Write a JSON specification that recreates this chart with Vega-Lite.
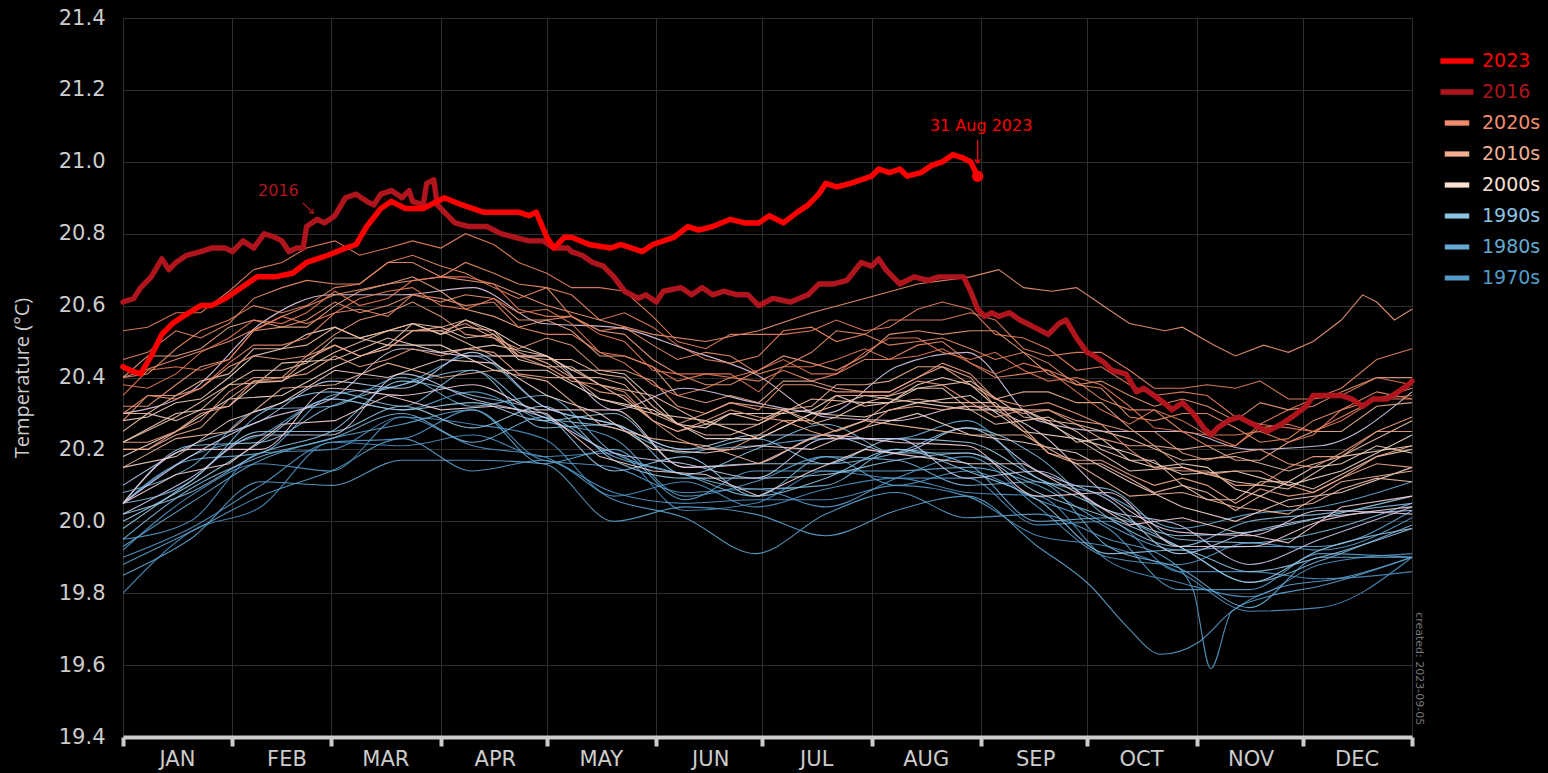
{
"$schema": "https://vega.github.io/schema/vega-lite/v6.json",
"width": 1289, "height": 719,
"autosize": {"type": "none"},
"padding": {"left": 123, "top": 18, "right": 136, "bottom": 36},
"background": "#000000",
"config": {"view": {"stroke": null}, "font": "DejaVu Sans"},
"datasets": {
"old": [
{"yr":1979,"d":1,"t":19.80},{"yr":1979,"d":20,"t":19.97},{"yr":1979,"d":40,"t":20.04},{"yr":1979,"d":60,"t":20.22},{"yr":1979,"d":80,"t":20.21},{"yr":1979,"d":100,"t":20.24},{"yr":1979,"d":120,"t":20.18},{"yr":1979,"d":140,"t":20.19},{"yr":1979,"d":160,"t":20.03},{"yr":1979,"d":180,"t":20.05},{"yr":1979,"d":200,"t":20.14},{"yr":1979,"d":220,"t":20.12},{"yr":1979,"d":240,"t":20.12},{"yr":1979,"d":260,"t":19.99},{"yr":1979,"d":280,"t":20.00},{"yr":1979,"d":300,"t":19.86},{"yr":1979,"d":320,"t":19.86},{"yr":1979,"d":340,"t":19.84},{"yr":1979,"d":366,"t":19.86},
{"yr":1980,"d":1,"t":19.95},{"yr":1980,"d":20,"t":20.00},{"yr":1980,"d":40,"t":20.19},{"yr":1980,"d":60,"t":20.20},{"yr":1980,"d":80,"t":20.29},{"yr":1980,"d":100,"t":20.27},{"yr":1980,"d":120,"t":20.23},{"yr":1980,"d":140,"t":20.07},{"yr":1980,"d":160,"t":20.11},{"yr":1980,"d":180,"t":20.04},{"yr":1980,"d":200,"t":20.09},{"yr":1980,"d":220,"t":20.12},{"yr":1980,"d":240,"t":20.08},{"yr":1980,"d":260,"t":20.07},{"yr":1980,"d":280,"t":19.89},{"yr":1980,"d":300,"t":19.83},{"yr":1980,"d":320,"t":19.79},{"yr":1980,"d":340,"t":19.88},{"yr":1980,"d":366,"t":19.91},
{"yr":1981,"d":1,"t":19.92},{"yr":1981,"d":20,"t":20.07},{"yr":1981,"d":40,"t":20.16},{"yr":1981,"d":60,"t":20.14},{"yr":1981,"d":80,"t":20.29},{"yr":1981,"d":100,"t":20.21},{"yr":1981,"d":120,"t":20.18},{"yr":1981,"d":140,"t":20.08},{"yr":1981,"d":160,"t":20.05},{"yr":1981,"d":180,"t":20.06},{"yr":1981,"d":200,"t":20.06},{"yr":1981,"d":220,"t":20.10},{"yr":1981,"d":240,"t":20.07},{"yr":1981,"d":260,"t":19.96},{"yr":1981,"d":280,"t":19.93},{"yr":1981,"d":300,"t":19.86},{"yr":1981,"d":320,"t":19.75},{"yr":1981,"d":340,"t":19.76},{"yr":1981,"d":366,"t":19.90},
{"yr":1982,"d":1,"t":19.90},{"yr":1982,"d":20,"t":19.98},{"yr":1982,"d":40,"t":20.10},{"yr":1982,"d":60,"t":20.22},{"yr":1982,"d":80,"t":20.23},{"yr":1982,"d":100,"t":20.31},{"yr":1982,"d":120,"t":20.17},{"yr":1982,"d":140,"t":20.15},{"yr":1982,"d":160,"t":20.08},{"yr":1982,"d":180,"t":20.09},{"yr":1982,"d":200,"t":20.04},{"yr":1982,"d":220,"t":20.12},{"yr":1982,"d":240,"t":20.18},{"yr":1982,"d":260,"t":20.04},{"yr":1982,"d":280,"t":19.90},{"yr":1982,"d":300,"t":19.88},{"yr":1982,"d":320,"t":19.94},{"yr":1982,"d":340,"t":19.92},{"yr":1982,"d":366,"t":20.01},
{"yr":1983,"d":1,"t":20.05},{"yr":1983,"d":20,"t":20.18},{"yr":1983,"d":40,"t":20.24},{"yr":1983,"d":60,"t":20.34},{"yr":1983,"d":80,"t":20.31},{"yr":1983,"d":100,"t":20.36},{"yr":1983,"d":120,"t":20.28},{"yr":1983,"d":140,"t":20.23},{"yr":1983,"d":160,"t":20.07},{"yr":1983,"d":180,"t":20.11},{"yr":1983,"d":200,"t":20.18},{"yr":1983,"d":220,"t":20.10},{"yr":1983,"d":240,"t":20.14},{"yr":1983,"d":260,"t":20.06},{"yr":1983,"d":280,"t":19.98},{"yr":1983,"d":300,"t":19.81},{"yr":1983,"d":320,"t":19.81},{"yr":1983,"d":340,"t":19.91},{"yr":1983,"d":366,"t":19.90},
{"yr":1984,"d":1,"t":19.88},{"yr":1984,"d":20,"t":19.97},{"yr":1984,"d":40,"t":20.07},{"yr":1984,"d":60,"t":20.14},{"yr":1984,"d":80,"t":20.23},{"yr":1984,"d":100,"t":20.14},{"yr":1984,"d":120,"t":20.17},{"yr":1984,"d":140,"t":20.06},{"yr":1984,"d":160,"t":20.01},{"yr":1984,"d":180,"t":19.91},{"yr":1984,"d":200,"t":20.02},{"yr":1984,"d":220,"t":20.08},{"yr":1984,"d":240,"t":20.01},{"yr":1984,"d":260,"t":20.02},{"yr":1984,"d":280,"t":19.95},{"yr":1984,"d":296,"t":19.90},{"yr":1984,"d":304,"t":19.81},{"yr":1984,"d":309,"t":19.59},{"yr":1984,"d":315,"t":19.75},{"yr":1984,"d":325,"t":19.79},{"yr":1984,"d":340,"t":19.82},{"yr":1984,"d":366,"t":19.90},
{"yr":1985,"d":1,"t":19.85},{"yr":1985,"d":20,"t":19.95},{"yr":1985,"d":40,"t":20.11},{"yr":1985,"d":60,"t":20.10},{"yr":1985,"d":80,"t":20.17},{"yr":1985,"d":100,"t":20.17},{"yr":1985,"d":120,"t":20.16},{"yr":1985,"d":140,"t":20.00},{"yr":1985,"d":160,"t":20.04},{"yr":1985,"d":180,"t":20.02},{"yr":1985,"d":200,"t":19.96},{"yr":1985,"d":220,"t":20.03},{"yr":1985,"d":240,"t":20.07},{"yr":1985,"d":260,"t":19.93},{"yr":1985,"d":275,"t":19.82},{"yr":1985,"d":285,"t":19.71},{"yr":1985,"d":295,"t":19.63},{"yr":1985,"d":305,"t":19.66},{"yr":1985,"d":315,"t":19.75},{"yr":1985,"d":330,"t":19.82},{"yr":1985,"d":345,"t":19.84},{"yr":1985,"d":366,"t":19.90},
{"yr":1986,"d":1,"t":19.93},{"yr":1986,"d":20,"t":20.05},{"yr":1986,"d":40,"t":20.17},{"yr":1986,"d":60,"t":20.23},{"yr":1986,"d":80,"t":20.27},{"yr":1986,"d":100,"t":20.31},{"yr":1986,"d":120,"t":20.16},{"yr":1986,"d":140,"t":20.20},{"yr":1986,"d":160,"t":20.06},{"yr":1986,"d":180,"t":20.14},{"yr":1986,"d":200,"t":20.14},{"yr":1986,"d":220,"t":20.14},{"yr":1986,"d":240,"t":20.15},{"yr":1986,"d":260,"t":20.10},{"yr":1986,"d":280,"t":19.99},{"yr":1986,"d":300,"t":19.92},{"yr":1986,"d":320,"t":19.93},{"yr":1986,"d":340,"t":19.93},{"yr":1986,"d":366,"t":20.03},
{"yr":1987,"d":1,"t":20.05},{"yr":1987,"d":20,"t":20.17},{"yr":1987,"d":40,"t":20.19},{"yr":1987,"d":60,"t":20.35},{"yr":1987,"d":80,"t":20.38},{"yr":1987,"d":100,"t":20.46},{"yr":1987,"d":120,"t":20.32},{"yr":1987,"d":140,"t":20.27},{"yr":1987,"d":160,"t":20.20},{"yr":1987,"d":180,"t":20.21},{"yr":1987,"d":200,"t":20.23},{"yr":1987,"d":220,"t":20.23},{"yr":1987,"d":240,"t":20.28},{"yr":1987,"d":260,"t":20.12},{"yr":1987,"d":280,"t":20.07},{"yr":1987,"d":300,"t":19.98},{"yr":1987,"d":320,"t":20.02},{"yr":1987,"d":340,"t":20.04},{"yr":1987,"d":366,"t":20.11},
{"yr":1988,"d":1,"t":20.08},{"yr":1988,"d":20,"t":20.15},{"yr":1988,"d":40,"t":20.31},{"yr":1988,"d":60,"t":20.32},{"yr":1988,"d":80,"t":20.40},{"yr":1988,"d":100,"t":20.32},{"yr":1988,"d":120,"t":20.35},{"yr":1988,"d":140,"t":20.19},{"yr":1988,"d":160,"t":20.13},{"yr":1988,"d":180,"t":20.07},{"yr":1988,"d":200,"t":20.18},{"yr":1988,"d":220,"t":20.17},{"yr":1988,"d":240,"t":20.10},{"yr":1988,"d":260,"t":20.11},{"yr":1988,"d":280,"t":19.93},{"yr":1988,"d":300,"t":19.87},{"yr":1988,"d":320,"t":19.76},{"yr":1988,"d":340,"t":19.90},{"yr":1988,"d":366,"t":19.90},
{"yr":1989,"d":1,"t":19.95},{"yr":1989,"d":20,"t":20.09},{"yr":1989,"d":40,"t":20.18},{"yr":1989,"d":60,"t":20.23},{"yr":1989,"d":80,"t":20.30},{"yr":1989,"d":100,"t":20.22},{"yr":1989,"d":120,"t":20.29},{"yr":1989,"d":140,"t":20.18},{"yr":1989,"d":160,"t":20.13},{"yr":1989,"d":180,"t":20.09},{"yr":1989,"d":200,"t":20.10},{"yr":1989,"d":220,"t":20.20},{"yr":1989,"d":240,"t":20.16},{"yr":1989,"d":260,"t":20.00},{"yr":1989,"d":280,"t":20.01},{"yr":1989,"d":300,"t":19.93},{"yr":1989,"d":320,"t":19.83},{"yr":1989,"d":340,"t":19.89},{"yr":1989,"d":366,"t":19.99},
{"yr":1990,"d":1,"t":20.05},{"yr":1990,"d":20,"t":20.11},{"yr":1990,"d":40,"t":20.30},{"yr":1990,"d":60,"t":20.36},{"yr":1990,"d":80,"t":20.32},{"yr":1990,"d":100,"t":20.42},{"yr":1990,"d":120,"t":20.29},{"yr":1990,"d":140,"t":20.26},{"yr":1990,"d":160,"t":20.19},{"yr":1990,"d":180,"t":20.23},{"yr":1990,"d":200,"t":20.16},{"yr":1990,"d":220,"t":20.19},{"yr":1990,"d":240,"t":20.26},{"yr":1990,"d":260,"t":20.18},{"yr":1990,"d":280,"t":20.01},{"yr":1990,"d":300,"t":19.93},{"yr":1990,"d":320,"t":20.00},{"yr":1990,"d":340,"t":20.02},{"yr":1990,"d":366,"t":20.05},
{"yr":1991,"d":1,"t":20.05},{"yr":1991,"d":20,"t":20.21},{"yr":1991,"d":40,"t":20.22},{"yr":1991,"d":60,"t":20.32},{"yr":1991,"d":80,"t":20.38},{"yr":1991,"d":100,"t":20.42},{"yr":1991,"d":120,"t":20.26},{"yr":1991,"d":140,"t":20.27},{"yr":1991,"d":160,"t":20.13},{"yr":1991,"d":180,"t":20.20},{"yr":1991,"d":200,"t":20.27},{"yr":1991,"d":220,"t":20.19},{"yr":1991,"d":240,"t":20.19},{"yr":1991,"d":260,"t":20.11},{"yr":1991,"d":280,"t":20.09},{"yr":1991,"d":300,"t":19.95},{"yr":1991,"d":320,"t":19.94},{"yr":1991,"d":340,"t":19.97},{"yr":1991,"d":366,"t":20.05},
{"yr":1992,"d":1,"t":20.02},{"yr":1992,"d":20,"t":20.08},{"yr":1992,"d":40,"t":20.19},{"yr":1992,"d":60,"t":20.25},{"yr":1992,"d":80,"t":20.39},{"yr":1992,"d":100,"t":20.35},{"yr":1992,"d":120,"t":20.30},{"yr":1992,"d":140,"t":20.14},{"yr":1992,"d":160,"t":20.18},{"yr":1992,"d":180,"t":20.07},{"yr":1992,"d":200,"t":20.12},{"yr":1992,"d":220,"t":20.20},{"yr":1992,"d":240,"t":20.14},{"yr":1992,"d":260,"t":20.06},{"yr":1992,"d":280,"t":19.91},{"yr":1992,"d":300,"t":19.92},{"yr":1992,"d":320,"t":19.86},{"yr":1992,"d":340,"t":19.90},{"yr":1992,"d":366,"t":19.98},
{"yr":1993,"d":1,"t":19.98},{"yr":1993,"d":20,"t":20.11},{"yr":1993,"d":40,"t":20.25},{"yr":1993,"d":60,"t":20.25},{"yr":1993,"d":80,"t":20.32},{"yr":1993,"d":100,"t":20.26},{"yr":1993,"d":120,"t":20.32},{"yr":1993,"d":140,"t":20.17},{"yr":1993,"d":160,"t":20.12},{"yr":1993,"d":180,"t":20.12},{"yr":1993,"d":200,"t":20.13},{"yr":1993,"d":220,"t":20.17},{"yr":1993,"d":240,"t":20.19},{"yr":1993,"d":260,"t":20.08},{"yr":1993,"d":280,"t":20.01},{"yr":1993,"d":300,"t":19.93},{"yr":1993,"d":320,"t":19.83},{"yr":1993,"d":340,"t":19.92},{"yr":1993,"d":366,"t":19.98},
{"yr":1994,"d":1,"t":20.00},{"yr":1994,"d":20,"t":20.10},{"yr":1994,"d":40,"t":20.22},{"yr":1994,"d":60,"t":20.34},{"yr":1994,"d":80,"t":20.31},{"yr":1994,"d":100,"t":20.33},{"yr":1994,"d":120,"t":20.28},{"yr":1994,"d":140,"t":20.30},{"yr":1994,"d":160,"t":20.15},{"yr":1994,"d":180,"t":20.16},{"yr":1994,"d":200,"t":20.16},{"yr":1994,"d":220,"t":20.23},{"yr":1994,"d":240,"t":20.22},{"yr":1994,"d":260,"t":20.12},{"yr":1994,"d":280,"t":20.03},{"yr":1994,"d":300,"t":19.96},{"yr":1994,"d":320,"t":19.97},{"yr":1994,"d":340,"t":20.01},{"yr":1994,"d":366,"t":20.07},
{"yr":1995,"d":1,"t":20.10},{"yr":1995,"d":20,"t":20.21},{"yr":1995,"d":40,"t":20.28},{"yr":1995,"d":60,"t":20.39},{"yr":1995,"d":80,"t":20.37},{"yr":1995,"d":100,"t":20.47},{"yr":1995,"d":120,"t":20.32},{"yr":1995,"d":140,"t":20.27},{"yr":1995,"d":160,"t":20.20},{"yr":1995,"d":180,"t":20.24},{"yr":1995,"d":200,"t":20.24},{"yr":1995,"d":220,"t":20.19},{"yr":1995,"d":240,"t":20.26},{"yr":1995,"d":260,"t":20.14},{"yr":1995,"d":280,"t":20.06},{"yr":1995,"d":300,"t":19.91},{"yr":1995,"d":320,"t":19.97},{"yr":1995,"d":340,"t":20.01},{"yr":1995,"d":366,"t":20.03},
{"yr":1996,"d":1,"t":20.02},{"yr":1996,"d":20,"t":20.12},{"yr":1996,"d":40,"t":20.24},{"yr":1996,"d":60,"t":20.24},{"yr":1996,"d":80,"t":20.41},{"yr":1996,"d":100,"t":20.34},{"yr":1996,"d":120,"t":20.29},{"yr":1996,"d":140,"t":20.19},{"yr":1996,"d":160,"t":20.16},{"yr":1996,"d":180,"t":20.12},{"yr":1996,"d":200,"t":20.23},{"yr":1996,"d":220,"t":20.23},{"yr":1996,"d":240,"t":20.12},{"yr":1996,"d":260,"t":20.14},{"yr":1996,"d":280,"t":20.03},{"yr":1996,"d":300,"t":19.99},{"yr":1996,"d":320,"t":19.88},{"yr":1996,"d":340,"t":19.95},{"yr":1996,"d":366,"t":20.04},
{"yr":1997,"d":1,"t":20.05},{"yr":1997,"d":20,"t":20.18},{"yr":1997,"d":40,"t":20.28},{"yr":1997,"d":60,"t":20.34},{"yr":1997,"d":80,"t":20.48},{"yr":1997,"d":100,"t":20.46},{"yr":1997,"d":120,"t":20.46},{"yr":1997,"d":140,"t":20.31},{"yr":1997,"d":160,"t":20.37},{"yr":1997,"d":180,"t":20.33},{"yr":1997,"d":200,"t":20.30},{"yr":1997,"d":220,"t":20.43},{"yr":1997,"d":240,"t":20.47},{"yr":1997,"d":260,"t":20.28},{"yr":1997,"d":280,"t":20.25},{"yr":1997,"d":300,"t":20.25},{"yr":1997,"d":320,"t":20.20},{"yr":1997,"d":340,"t":20.21},{"yr":1997,"d":366,"t":20.36},
{"yr":1998,"d":1,"t":20.30},{"yr":1998,"d":20,"t":20.36},{"yr":1998,"d":40,"t":20.55},{"yr":1998,"d":60,"t":20.63},{"yr":1998,"d":80,"t":20.63},{"yr":1998,"d":100,"t":20.65},{"yr":1998,"d":120,"t":20.55},{"yr":1998,"d":140,"t":20.54},{"yr":1998,"d":160,"t":20.48},{"yr":1998,"d":180,"t":20.41},{"yr":1998,"d":200,"t":20.29},{"yr":1998,"d":220,"t":20.28},{"yr":1998,"d":240,"t":20.32},{"yr":1998,"d":260,"t":20.25},{"yr":1998,"d":280,"t":20.07},{"yr":1998,"d":300,"t":19.97},{"yr":1998,"d":320,"t":19.96},{"yr":1998,"d":340,"t":20.03},{"yr":1998,"d":366,"t":20.02},
{"yr":1999,"d":1,"t":20.05},{"yr":1999,"d":20,"t":20.20},{"yr":1999,"d":40,"t":20.20},{"yr":1999,"d":60,"t":20.37},{"yr":1999,"d":80,"t":20.35},{"yr":1999,"d":100,"t":20.38},{"yr":1999,"d":120,"t":20.31},{"yr":1999,"d":140,"t":20.31},{"yr":1999,"d":160,"t":20.15},{"yr":1999,"d":180,"t":20.16},{"yr":1999,"d":200,"t":20.24},{"yr":1999,"d":220,"t":20.22},{"yr":1999,"d":240,"t":20.21},{"yr":1999,"d":260,"t":20.07},{"yr":1999,"d":280,"t":20.08},{"yr":1999,"d":300,"t":19.93},{"yr":1999,"d":320,"t":19.93},{"yr":1999,"d":340,"t":20.00},{"yr":1999,"d":366,"t":20.04}
],
"recent": [
{"yr":2000,"d":1,"t":20.05},{"yr":2000,"d":16,"t":20.13},{"yr":2000,"d":31,"t":20.16},{"yr":2000,"d":46,"t":20.27},{"yr":2000,"d":61,"t":20.28},{"yr":2000,"d":76,"t":20.35},{"yr":2000,"d":91,"t":20.31},{"yr":2000,"d":106,"t":20.32},{"yr":2000,"d":121,"t":20.30},{"yr":2000,"d":136,"t":20.18},{"yr":2000,"d":151,"t":20.14},{"yr":2000,"d":166,"t":20.13},{"yr":2000,"d":181,"t":20.07},{"yr":2000,"d":196,"t":20.14},{"yr":2000,"d":211,"t":20.20},{"yr":2000,"d":226,"t":20.18},{"yr":2000,"d":241,"t":20.16},{"yr":2000,"d":256,"t":20.16},{"yr":2000,"d":271,"t":20.08},{"yr":2000,"d":286,"t":19.99},{"yr":2000,"d":301,"t":20.01},{"yr":2000,"d":316,"t":19.97},{"yr":2000,"d":331,"t":19.94},{"yr":2000,"d":346,"t":20.04},{"yr":2000,"d":366,"t":20.07},
{"yr":2001,"d":1,"t":20.15},{"yr":2001,"d":16,"t":20.18},{"yr":2001,"d":31,"t":20.28},{"yr":2001,"d":46,"t":20.33},{"yr":2001,"d":61,"t":20.42},{"yr":2001,"d":76,"t":20.40},{"yr":2001,"d":91,"t":20.45},{"yr":2001,"d":106,"t":20.44},{"yr":2001,"d":121,"t":20.35},{"yr":2001,"d":136,"t":20.30},{"yr":2001,"d":151,"t":20.20},{"yr":2001,"d":166,"t":20.19},{"yr":2001,"d":181,"t":20.21},{"yr":2001,"d":196,"t":20.20},{"yr":2001,"d":211,"t":20.26},{"yr":2001,"d":226,"t":20.30},{"yr":2001,"d":241,"t":20.24},{"yr":2001,"d":256,"t":20.22},{"yr":2001,"d":271,"t":20.19},{"yr":2001,"d":286,"t":20.11},{"yr":2001,"d":301,"t":20.04},{"yr":2001,"d":316,"t":20.00},{"yr":2001,"d":331,"t":20.06},{"yr":2001,"d":346,"t":20.08},{"yr":2001,"d":366,"t":20.15},
{"yr":2002,"d":1,"t":20.18},{"yr":2002,"d":16,"t":20.25},{"yr":2002,"d":31,"t":20.34},{"yr":2002,"d":46,"t":20.35},{"yr":2002,"d":61,"t":20.43},{"yr":2002,"d":76,"t":20.49},{"yr":2002,"d":91,"t":20.49},{"yr":2002,"d":106,"t":20.42},{"yr":2002,"d":121,"t":20.42},{"yr":2002,"d":136,"t":20.34},{"yr":2002,"d":151,"t":20.31},{"yr":2002,"d":166,"t":20.23},{"yr":2002,"d":181,"t":20.23},{"yr":2002,"d":196,"t":20.30},{"yr":2002,"d":211,"t":20.29},{"yr":2002,"d":226,"t":20.33},{"yr":2002,"d":241,"t":20.35},{"yr":2002,"d":256,"t":20.25},{"yr":2002,"d":271,"t":20.23},{"yr":2002,"d":286,"t":20.19},{"yr":2002,"d":301,"t":20.13},{"yr":2002,"d":316,"t":20.14},{"yr":2002,"d":331,"t":20.10},{"yr":2002,"d":346,"t":20.14},{"yr":2002,"d":366,"t":20.24},
{"yr":2003,"d":1,"t":20.28},{"yr":2003,"d":16,"t":20.33},{"yr":2003,"d":31,"t":20.40},{"yr":2003,"d":46,"t":20.48},{"yr":2003,"d":61,"t":20.54},{"yr":2003,"d":76,"t":20.53},{"yr":2003,"d":91,"t":20.52},{"yr":2003,"d":106,"t":20.53},{"yr":2003,"d":121,"t":20.46},{"yr":2003,"d":136,"t":20.42},{"yr":2003,"d":151,"t":20.34},{"yr":2003,"d":166,"t":20.26},{"yr":2003,"d":181,"t":20.30},{"yr":2003,"d":196,"t":20.31},{"yr":2003,"d":211,"t":20.32},{"yr":2003,"d":226,"t":20.38},{"yr":2003,"d":241,"t":20.38},{"yr":2003,"d":256,"t":20.31},{"yr":2003,"d":271,"t":20.22},{"yr":2003,"d":286,"t":20.17},{"yr":2003,"d":301,"t":20.16},{"yr":2003,"d":316,"t":20.09},{"yr":2003,"d":331,"t":20.11},{"yr":2003,"d":346,"t":20.16},{"yr":2003,"d":366,"t":20.19},
{"yr":2004,"d":1,"t":20.22},{"yr":2004,"d":16,"t":20.30},{"yr":2004,"d":31,"t":20.32},{"yr":2004,"d":46,"t":20.44},{"yr":2004,"d":61,"t":20.45},{"yr":2004,"d":76,"t":20.51},{"yr":2004,"d":91,"t":20.47},{"yr":2004,"d":106,"t":20.49},{"yr":2004,"d":121,"t":20.46},{"yr":2004,"d":136,"t":20.34},{"yr":2004,"d":151,"t":20.30},{"yr":2004,"d":166,"t":20.28},{"yr":2004,"d":181,"t":20.23},{"yr":2004,"d":196,"t":20.30},{"yr":2004,"d":211,"t":20.35},{"yr":2004,"d":226,"t":20.33},{"yr":2004,"d":241,"t":20.31},{"yr":2004,"d":256,"t":20.31},{"yr":2004,"d":271,"t":20.23},{"yr":2004,"d":286,"t":20.14},{"yr":2004,"d":301,"t":20.15},{"yr":2004,"d":316,"t":20.11},{"yr":2004,"d":331,"t":20.09},{"yr":2004,"d":346,"t":20.18},{"yr":2004,"d":366,"t":20.21},
{"yr":2005,"d":1,"t":20.25},{"yr":2005,"d":16,"t":20.28},{"yr":2005,"d":31,"t":20.38},{"yr":2005,"d":46,"t":20.42},{"yr":2005,"d":61,"t":20.51},{"yr":2005,"d":76,"t":20.49},{"yr":2005,"d":91,"t":20.54},{"yr":2005,"d":106,"t":20.52},{"yr":2005,"d":121,"t":20.43},{"yr":2005,"d":136,"t":20.38},{"yr":2005,"d":151,"t":20.28},{"yr":2005,"d":166,"t":20.27},{"yr":2005,"d":181,"t":20.28},{"yr":2005,"d":196,"t":20.27},{"yr":2005,"d":211,"t":20.33},{"yr":2005,"d":226,"t":20.37},{"yr":2005,"d":241,"t":20.31},{"yr":2005,"d":256,"t":20.28},{"yr":2005,"d":271,"t":20.25},{"yr":2005,"d":286,"t":20.17},{"yr":2005,"d":301,"t":20.10},{"yr":2005,"d":316,"t":20.06},{"yr":2005,"d":331,"t":20.11},{"yr":2005,"d":346,"t":20.13},{"yr":2005,"d":366,"t":20.20},
{"yr":2006,"d":1,"t":20.22},{"yr":2006,"d":16,"t":20.29},{"yr":2006,"d":31,"t":20.38},{"yr":2006,"d":46,"t":20.39},{"yr":2006,"d":61,"t":20.47},{"yr":2006,"d":76,"t":20.53},{"yr":2006,"d":91,"t":20.53},{"yr":2006,"d":106,"t":20.46},{"yr":2006,"d":121,"t":20.46},{"yr":2006,"d":136,"t":20.38},{"yr":2006,"d":151,"t":20.35},{"yr":2006,"d":166,"t":20.27},{"yr":2006,"d":181,"t":20.27},{"yr":2006,"d":196,"t":20.34},{"yr":2006,"d":211,"t":20.33},{"yr":2006,"d":226,"t":20.37},{"yr":2006,"d":241,"t":20.39},{"yr":2006,"d":256,"t":20.29},{"yr":2006,"d":271,"t":20.27},{"yr":2006,"d":286,"t":20.23},{"yr":2006,"d":301,"t":20.17},{"yr":2006,"d":316,"t":20.18},{"yr":2006,"d":331,"t":20.14},{"yr":2006,"d":346,"t":20.18},{"yr":2006,"d":366,"t":20.28},
{"yr":2007,"d":1,"t":20.30},{"yr":2007,"d":16,"t":20.35},{"yr":2007,"d":31,"t":20.41},{"yr":2007,"d":46,"t":20.48},{"yr":2007,"d":61,"t":20.54},{"yr":2007,"d":76,"t":20.53},{"yr":2007,"d":91,"t":20.52},{"yr":2007,"d":106,"t":20.53},{"yr":2007,"d":121,"t":20.45},{"yr":2007,"d":136,"t":20.41},{"yr":2007,"d":151,"t":20.32},{"yr":2007,"d":166,"t":20.24},{"yr":2007,"d":181,"t":20.27},{"yr":2007,"d":196,"t":20.28},{"yr":2007,"d":211,"t":20.28},{"yr":2007,"d":226,"t":20.34},{"yr":2007,"d":241,"t":20.33},{"yr":2007,"d":256,"t":20.26},{"yr":2007,"d":271,"t":20.16},{"yr":2007,"d":286,"t":20.12},{"yr":2007,"d":301,"t":20.10},{"yr":2007,"d":316,"t":20.03},{"yr":2007,"d":331,"t":20.04},{"yr":2007,"d":346,"t":20.09},{"yr":2007,"d":366,"t":20.11},
{"yr":2008,"d":1,"t":20.15},{"yr":2008,"d":16,"t":20.23},{"yr":2008,"d":31,"t":20.25},{"yr":2008,"d":46,"t":20.37},{"yr":2008,"d":61,"t":20.38},{"yr":2008,"d":76,"t":20.44},{"yr":2008,"d":91,"t":20.40},{"yr":2008,"d":106,"t":20.42},{"yr":2008,"d":121,"t":20.39},{"yr":2008,"d":136,"t":20.27},{"yr":2008,"d":151,"t":20.23},{"yr":2008,"d":166,"t":20.21},{"yr":2008,"d":181,"t":20.16},{"yr":2008,"d":196,"t":20.23},{"yr":2008,"d":211,"t":20.28},{"yr":2008,"d":226,"t":20.26},{"yr":2008,"d":241,"t":20.24},{"yr":2008,"d":256,"t":20.24},{"yr":2008,"d":271,"t":20.16},{"yr":2008,"d":286,"t":20.07},{"yr":2008,"d":301,"t":20.08},{"yr":2008,"d":316,"t":20.04},{"yr":2008,"d":331,"t":20.02},{"yr":2008,"d":346,"t":20.11},{"yr":2008,"d":366,"t":20.14},
{"yr":2009,"d":1,"t":20.20},{"yr":2009,"d":16,"t":20.24},{"yr":2009,"d":31,"t":20.34},{"yr":2009,"d":46,"t":20.39},{"yr":2009,"d":61,"t":20.49},{"yr":2009,"d":76,"t":20.48},{"yr":2009,"d":91,"t":20.54},{"yr":2009,"d":106,"t":20.52},{"yr":2009,"d":121,"t":20.44},{"yr":2009,"d":136,"t":20.40},{"yr":2009,"d":151,"t":20.30},{"yr":2009,"d":166,"t":20.30},{"yr":2009,"d":181,"t":20.32},{"yr":2009,"d":196,"t":20.32},{"yr":2009,"d":211,"t":20.38},{"yr":2009,"d":226,"t":20.43},{"yr":2009,"d":241,"t":20.38},{"yr":2009,"d":256,"t":20.36},{"yr":2009,"d":271,"t":20.33},{"yr":2009,"d":286,"t":20.26},{"yr":2009,"d":301,"t":20.20},{"yr":2009,"d":316,"t":20.17},{"yr":2009,"d":331,"t":20.22},{"yr":2009,"d":346,"t":20.25},{"yr":2009,"d":366,"t":20.33},
{"yr":2010,"d":1,"t":20.40},{"yr":2010,"d":16,"t":20.46},{"yr":2010,"d":31,"t":20.54},{"yr":2010,"d":46,"t":20.54},{"yr":2010,"d":61,"t":20.60},{"yr":2010,"d":76,"t":20.66},{"yr":2010,"d":91,"t":20.64},{"yr":2010,"d":106,"t":20.57},{"yr":2010,"d":121,"t":20.56},{"yr":2010,"d":136,"t":20.46},{"yr":2010,"d":151,"t":20.43},{"yr":2010,"d":166,"t":20.33},{"yr":2010,"d":181,"t":20.33},{"yr":2010,"d":196,"t":20.39},{"yr":2010,"d":211,"t":20.36},{"yr":2010,"d":226,"t":20.40},{"yr":2010,"d":241,"t":20.40},{"yr":2010,"d":256,"t":20.30},{"yr":2010,"d":271,"t":20.27},{"yr":2010,"d":286,"t":20.21},{"yr":2010,"d":301,"t":20.15},{"yr":2010,"d":316,"t":20.14},{"yr":2010,"d":331,"t":20.10},{"yr":2010,"d":346,"t":20.12},{"yr":2010,"d":366,"t":20.21},
{"yr":2011,"d":1,"t":20.20},{"yr":2011,"d":16,"t":20.25},{"yr":2011,"d":31,"t":20.32},{"yr":2011,"d":46,"t":20.40},{"yr":2011,"d":61,"t":20.46},{"yr":2011,"d":76,"t":20.45},{"yr":2011,"d":91,"t":20.46},{"yr":2011,"d":106,"t":20.47},{"yr":2011,"d":121,"t":20.40},{"yr":2011,"d":136,"t":20.36},{"yr":2011,"d":151,"t":20.28},{"yr":2011,"d":166,"t":20.20},{"yr":2011,"d":181,"t":20.24},{"yr":2011,"d":196,"t":20.25},{"yr":2011,"d":211,"t":20.26},{"yr":2011,"d":226,"t":20.32},{"yr":2011,"d":241,"t":20.32},{"yr":2011,"d":256,"t":20.25},{"yr":2011,"d":271,"t":20.17},{"yr":2011,"d":286,"t":20.13},{"yr":2011,"d":301,"t":20.12},{"yr":2011,"d":316,"t":20.05},{"yr":2011,"d":331,"t":20.07},{"yr":2011,"d":346,"t":20.12},{"yr":2011,"d":366,"t":20.15},
{"yr":2012,"d":1,"t":20.22},{"yr":2012,"d":16,"t":20.25},{"yr":2012,"d":31,"t":20.36},{"yr":2012,"d":46,"t":20.40},{"yr":2012,"d":61,"t":20.49},{"yr":2012,"d":76,"t":20.48},{"yr":2012,"d":91,"t":20.53},{"yr":2012,"d":106,"t":20.51},{"yr":2012,"d":121,"t":20.43},{"yr":2012,"d":136,"t":20.38},{"yr":2012,"d":151,"t":20.28},{"yr":2012,"d":166,"t":20.28},{"yr":2012,"d":181,"t":20.29},{"yr":2012,"d":196,"t":20.28},{"yr":2012,"d":211,"t":20.35},{"yr":2012,"d":226,"t":20.39},{"yr":2012,"d":241,"t":20.33},{"yr":2012,"d":256,"t":20.31},{"yr":2012,"d":271,"t":20.28},{"yr":2012,"d":286,"t":20.20},{"yr":2012,"d":301,"t":20.14},{"yr":2012,"d":316,"t":20.10},{"yr":2012,"d":331,"t":20.15},{"yr":2012,"d":346,"t":20.18},{"yr":2012,"d":366,"t":20.25},
{"yr":2013,"d":1,"t":20.28},{"yr":2013,"d":16,"t":20.35},{"yr":2013,"d":31,"t":20.43},{"yr":2013,"d":46,"t":20.45},{"yr":2013,"d":61,"t":20.52},{"yr":2013,"d":76,"t":20.58},{"yr":2013,"d":91,"t":20.57},{"yr":2013,"d":106,"t":20.51},{"yr":2013,"d":121,"t":20.51},{"yr":2013,"d":136,"t":20.42},{"yr":2013,"d":151,"t":20.39},{"yr":2013,"d":166,"t":20.30},{"yr":2013,"d":181,"t":20.31},{"yr":2013,"d":196,"t":20.38},{"yr":2013,"d":211,"t":20.36},{"yr":2013,"d":226,"t":20.40},{"yr":2013,"d":241,"t":20.41},{"yr":2013,"d":256,"t":20.32},{"yr":2013,"d":271,"t":20.30},{"yr":2013,"d":286,"t":20.25},{"yr":2013,"d":301,"t":20.19},{"yr":2013,"d":316,"t":20.19},{"yr":2013,"d":331,"t":20.16},{"yr":2013,"d":346,"t":20.19},{"yr":2013,"d":366,"t":20.29},
{"yr":2014,"d":1,"t":20.32},{"yr":2014,"d":16,"t":20.38},{"yr":2014,"d":31,"t":20.45},{"yr":2014,"d":46,"t":20.54},{"yr":2014,"d":61,"t":20.61},{"yr":2014,"d":76,"t":20.60},{"yr":2014,"d":91,"t":20.61},{"yr":2014,"d":106,"t":20.62},{"yr":2014,"d":121,"t":20.56},{"yr":2014,"d":136,"t":20.53},{"yr":2014,"d":151,"t":20.45},{"yr":2014,"d":166,"t":20.38},{"yr":2014,"d":181,"t":20.42},{"yr":2014,"d":196,"t":20.44},{"yr":2014,"d":211,"t":20.46},{"yr":2014,"d":226,"t":20.53},{"yr":2014,"d":241,"t":20.53},{"yr":2014,"d":256,"t":20.47},{"yr":2014,"d":271,"t":20.38},{"yr":2014,"d":286,"t":20.35},{"yr":2014,"d":301,"t":20.34},{"yr":2014,"d":316,"t":20.28},{"yr":2014,"d":331,"t":20.31},{"yr":2014,"d":346,"t":20.36},{"yr":2014,"d":366,"t":20.40},
{"yr":2015,"d":1,"t":20.40},{"yr":2015,"d":16,"t":20.45},{"yr":2015,"d":31,"t":20.50},{"yr":2015,"d":46,"t":20.57},{"yr":2015,"d":61,"t":20.63},{"yr":2015,"d":76,"t":20.66},{"yr":2015,"d":91,"t":20.68},{"yr":2015,"d":106,"t":20.66},{"yr":2015,"d":121,"t":20.60},{"yr":2015,"d":136,"t":20.56},{"yr":2015,"d":151,"t":20.52},{"yr":2015,"d":166,"t":20.50},{"yr":2015,"d":181,"t":20.53},{"yr":2015,"d":196,"t":20.58},{"yr":2015,"d":211,"t":20.62},{"yr":2015,"d":226,"t":20.66},{"yr":2015,"d":241,"t":20.68},{"yr":2015,"d":249,"t":20.70},{"yr":2015,"d":256,"t":20.65},{"yr":2015,"d":264,"t":20.64},{"yr":2015,"d":271,"t":20.65},{"yr":2015,"d":280,"t":20.59},{"yr":2015,"d":286,"t":20.55},{"yr":2015,"d":296,"t":20.53},{"yr":2015,"d":301,"t":20.54},{"yr":2015,"d":310,"t":20.49},{"yr":2015,"d":316,"t":20.46},{"yr":2015,"d":324,"t":20.49},{"yr":2015,"d":331,"t":20.47},{"yr":2015,"d":338,"t":20.50},{"yr":2015,"d":346,"t":20.56},{"yr":2015,"d":352,"t":20.63},{"yr":2015,"d":356,"t":20.61},{"yr":2015,"d":361,"t":20.56},{"yr":2015,"d":366,"t":20.59},
{"yr":2017,"d":1,"t":20.45},{"yr":2017,"d":16,"t":20.53},{"yr":2017,"d":31,"t":20.55},{"yr":2017,"d":46,"t":20.65},{"yr":2017,"d":61,"t":20.66},{"yr":2017,"d":76,"t":20.72},{"yr":2017,"d":91,"t":20.68},{"yr":2017,"d":106,"t":20.69},{"yr":2017,"d":121,"t":20.65},{"yr":2017,"d":136,"t":20.53},{"yr":2017,"d":151,"t":20.49},{"yr":2017,"d":166,"t":20.47},{"yr":2017,"d":181,"t":20.41},{"yr":2017,"d":196,"t":20.47},{"yr":2017,"d":211,"t":20.52},{"yr":2017,"d":226,"t":20.50},{"yr":2017,"d":241,"t":20.48},{"yr":2017,"d":256,"t":20.47},{"yr":2017,"d":271,"t":20.38},{"yr":2017,"d":286,"t":20.29},{"yr":2017,"d":301,"t":20.30},{"yr":2017,"d":316,"t":20.26},{"yr":2017,"d":331,"t":20.23},{"yr":2017,"d":346,"t":20.31},{"yr":2017,"d":366,"t":20.34},
{"yr":2018,"d":1,"t":20.30},{"yr":2018,"d":16,"t":20.34},{"yr":2018,"d":31,"t":20.44},{"yr":2018,"d":46,"t":20.49},{"yr":2018,"d":61,"t":20.58},{"yr":2018,"d":76,"t":20.57},{"yr":2018,"d":91,"t":20.62},{"yr":2018,"d":106,"t":20.61},{"yr":2018,"d":121,"t":20.52},{"yr":2018,"d":136,"t":20.47},{"yr":2018,"d":151,"t":20.38},{"yr":2018,"d":166,"t":20.37},{"yr":2018,"d":181,"t":20.39},{"yr":2018,"d":196,"t":20.39},{"yr":2018,"d":211,"t":20.45},{"yr":2018,"d":226,"t":20.49},{"yr":2018,"d":241,"t":20.44},{"yr":2018,"d":256,"t":20.41},{"yr":2018,"d":271,"t":20.39},{"yr":2018,"d":286,"t":20.31},{"yr":2018,"d":301,"t":20.25},{"yr":2018,"d":316,"t":20.21},{"yr":2018,"d":331,"t":20.27},{"yr":2018,"d":346,"t":20.29},{"yr":2018,"d":366,"t":20.37},
{"yr":2019,"d":1,"t":20.40},{"yr":2019,"d":16,"t":20.48},{"yr":2019,"d":31,"t":20.56},{"yr":2019,"d":46,"t":20.58},{"yr":2019,"d":61,"t":20.65},{"yr":2019,"d":76,"t":20.72},{"yr":2019,"d":91,"t":20.71},{"yr":2019,"d":106,"t":20.65},{"yr":2019,"d":121,"t":20.65},{"yr":2019,"d":136,"t":20.56},{"yr":2019,"d":151,"t":20.54},{"yr":2019,"d":166,"t":20.45},{"yr":2019,"d":181,"t":20.46},{"yr":2019,"d":196,"t":20.54},{"yr":2019,"d":211,"t":20.52},{"yr":2019,"d":226,"t":20.56},{"yr":2019,"d":241,"t":20.58},{"yr":2019,"d":256,"t":20.48},{"yr":2019,"d":271,"t":20.47},{"yr":2019,"d":286,"t":20.42},{"yr":2019,"d":301,"t":20.37},{"yr":2019,"d":316,"t":20.37},{"yr":2019,"d":331,"t":20.34},{"yr":2019,"d":346,"t":20.37},{"yr":2019,"d":366,"t":20.48},
{"yr":2020,"d":1,"t":20.53},{"yr":2020,"d":16,"t":20.58},{"yr":2020,"d":31,"t":20.64},{"yr":2020,"d":46,"t":20.72},{"yr":2020,"d":61,"t":20.78},{"yr":2020,"d":76,"t":20.76},{"yr":2020,"d":91,"t":20.76},{"yr":2020,"d":106,"t":20.77},{"yr":2020,"d":121,"t":20.69},{"yr":2020,"d":136,"t":20.65},{"yr":2020,"d":151,"t":20.57},{"yr":2020,"d":166,"t":20.48},{"yr":2020,"d":181,"t":20.52},{"yr":2020,"d":196,"t":20.53},{"yr":2020,"d":211,"t":20.53},{"yr":2020,"d":226,"t":20.59},{"yr":2020,"d":241,"t":20.59},{"yr":2020,"d":256,"t":20.51},{"yr":2020,"d":271,"t":20.42},{"yr":2020,"d":286,"t":20.38},{"yr":2020,"d":301,"t":20.36},{"yr":2020,"d":316,"t":20.29},{"yr":2020,"d":331,"t":20.31},{"yr":2020,"d":346,"t":20.35},{"yr":2020,"d":366,"t":20.38},
{"yr":2021,"d":1,"t":20.35},{"yr":2021,"d":16,"t":20.43},{"yr":2021,"d":31,"t":20.45},{"yr":2021,"d":46,"t":20.57},{"yr":2021,"d":61,"t":20.58},{"yr":2021,"d":76,"t":20.64},{"yr":2021,"d":91,"t":20.60},{"yr":2021,"d":106,"t":20.62},{"yr":2021,"d":121,"t":20.59},{"yr":2021,"d":136,"t":20.47},{"yr":2021,"d":151,"t":20.43},{"yr":2021,"d":166,"t":20.41},{"yr":2021,"d":181,"t":20.36},{"yr":2021,"d":196,"t":20.43},{"yr":2021,"d":211,"t":20.48},{"yr":2021,"d":226,"t":20.46},{"yr":2021,"d":241,"t":20.44},{"yr":2021,"d":256,"t":20.44},{"yr":2021,"d":271,"t":20.36},{"yr":2021,"d":286,"t":20.27},{"yr":2021,"d":301,"t":20.28},{"yr":2021,"d":316,"t":20.24},{"yr":2021,"d":331,"t":20.22},{"yr":2021,"d":346,"t":20.31},{"yr":2021,"d":366,"t":20.34},
{"yr":2022,"d":1,"t":20.38},{"yr":2022,"d":16,"t":20.41},{"yr":2022,"d":31,"t":20.51},{"yr":2022,"d":46,"t":20.55},{"yr":2022,"d":61,"t":20.64},{"yr":2022,"d":76,"t":20.62},{"yr":2022,"d":91,"t":20.68},{"yr":2022,"d":106,"t":20.66},{"yr":2022,"d":121,"t":20.57},{"yr":2022,"d":136,"t":20.52},{"yr":2022,"d":151,"t":20.42},{"yr":2022,"d":166,"t":20.41},{"yr":2022,"d":181,"t":20.42},{"yr":2022,"d":196,"t":20.41},{"yr":2022,"d":211,"t":20.47},{"yr":2022,"d":226,"t":20.51},{"yr":2022,"d":241,"t":20.45},{"yr":2022,"d":256,"t":20.42},{"yr":2022,"d":271,"t":20.40},{"yr":2022,"d":286,"t":20.32},{"yr":2022,"d":301,"t":20.25},{"yr":2022,"d":316,"t":20.21},{"yr":2022,"d":331,"t":20.26},{"yr":2022,"d":346,"t":20.28},{"yr":2022,"d":366,"t":20.35},
{"yr":2010,"d":8,"t":20.46},{"yr":2010,"d":23,"t":20.48},{"yr":2010,"d":38,"t":20.56},{"yr":2010,"d":53,"t":20.54},{"yr":2010,"d":68,"t":20.64},{"yr":2010,"d":83,"t":20.68},{"yr":2010,"d":98,"t":20.59},{"yr":2010,"d":113,"t":20.54},{"yr":2010,"d":128,"t":20.53},{"yr":2010,"d":143,"t":20.46},{"yr":2010,"d":158,"t":20.35},{"yr":2010,"d":173,"t":20.35},{"yr":2010,"d":188,"t":20.39},{"yr":2010,"d":203,"t":20.37},{"yr":2010,"d":218,"t":20.36},{"yr":2010,"d":233,"t":20.43},{"yr":2010,"d":248,"t":20.32},{"yr":2010,"d":263,"t":20.31},{"yr":2010,"d":278,"t":20.23},{"yr":2010,"d":293,"t":20.21},{"yr":2010,"d":308,"t":20.13},{"yr":2010,"d":323,"t":20.14},{"yr":2010,"d":338,"t":20.08},{"yr":2010,"d":356,"t":20.18},
{"yr":2011,"d":8,"t":20.20},{"yr":2011,"d":23,"t":20.30},{"yr":2011,"d":38,"t":20.39},{"yr":2011,"d":53,"t":20.41},{"yr":2011,"d":68,"t":20.43},{"yr":2011,"d":83,"t":20.48},{"yr":2011,"d":98,"t":20.48},{"yr":2011,"d":113,"t":20.41},{"yr":2011,"d":128,"t":20.40},{"yr":2011,"d":143,"t":20.35},{"yr":2011,"d":158,"t":20.23},{"yr":2011,"d":173,"t":20.20},{"yr":2011,"d":188,"t":20.28},{"yr":2011,"d":203,"t":20.23},{"yr":2011,"d":218,"t":20.31},{"yr":2011,"d":233,"t":20.31},{"yr":2011,"d":248,"t":20.32},{"yr":2011,"d":263,"t":20.19},{"yr":2011,"d":278,"t":20.17},{"yr":2011,"d":293,"t":20.10},{"yr":2011,"d":308,"t":20.10},{"yr":2011,"d":323,"t":20.09},{"yr":2011,"d":338,"t":20.08},{"yr":2011,"d":356,"t":20.16},
{"yr":2012,"d":8,"t":20.22},{"yr":2012,"d":23,"t":20.28},{"yr":2012,"d":38,"t":20.40},{"yr":2012,"d":53,"t":20.46},{"yr":2012,"d":68,"t":20.46},{"yr":2012,"d":83,"t":20.53},{"yr":2012,"d":98,"t":20.55},{"yr":2012,"d":113,"t":20.46},{"yr":2012,"d":128,"t":20.39},{"yr":2012,"d":143,"t":20.36},{"yr":2012,"d":158,"t":20.25},{"yr":2012,"d":173,"t":20.31},{"yr":2012,"d":188,"t":20.28},{"yr":2012,"d":203,"t":20.35},{"yr":2012,"d":218,"t":20.35},{"yr":2012,"d":233,"t":20.38},{"yr":2012,"d":248,"t":20.29},{"yr":2012,"d":263,"t":20.31},{"yr":2012,"d":278,"t":20.27},{"yr":2012,"d":293,"t":20.15},{"yr":2012,"d":308,"t":20.14},{"yr":2012,"d":323,"t":20.10},{"yr":2012,"d":338,"t":20.18},{"yr":2012,"d":356,"t":20.25},
{"yr":2013,"d":8,"t":20.35},{"yr":2013,"d":23,"t":20.37},{"yr":2013,"d":38,"t":20.46},{"yr":2013,"d":53,"t":20.46},{"yr":2013,"d":68,"t":20.56},{"yr":2013,"d":83,"t":20.61},{"yr":2013,"d":98,"t":20.52},{"yr":2013,"d":113,"t":20.48},{"yr":2013,"d":128,"t":20.49},{"yr":2013,"d":143,"t":20.42},{"yr":2013,"d":158,"t":20.32},{"yr":2013,"d":173,"t":20.33},{"yr":2013,"d":188,"t":20.38},{"yr":2013,"d":203,"t":20.36},{"yr":2013,"d":218,"t":20.36},{"yr":2013,"d":233,"t":20.44},{"yr":2013,"d":248,"t":20.34},{"yr":2013,"d":263,"t":20.33},{"yr":2013,"d":278,"t":20.27},{"yr":2013,"d":293,"t":20.25},{"yr":2013,"d":308,"t":20.17},{"yr":2013,"d":323,"t":20.20},{"yr":2013,"d":338,"t":20.15},{"yr":2013,"d":356,"t":20.25},
{"yr":2014,"d":8,"t":20.32},{"yr":2014,"d":23,"t":20.43},{"yr":2014,"d":38,"t":20.53},{"yr":2014,"d":53,"t":20.56},{"yr":2014,"d":68,"t":20.58},{"yr":2014,"d":83,"t":20.63},{"yr":2014,"d":98,"t":20.63},{"yr":2014,"d":113,"t":20.56},{"yr":2014,"d":128,"t":20.57},{"yr":2014,"d":143,"t":20.52},{"yr":2014,"d":158,"t":20.41},{"yr":2014,"d":173,"t":20.38},{"yr":2014,"d":188,"t":20.46},{"yr":2014,"d":203,"t":20.42},{"yr":2014,"d":218,"t":20.52},{"yr":2014,"d":233,"t":20.52},{"yr":2014,"d":248,"t":20.53},{"yr":2014,"d":263,"t":20.41},{"yr":2014,"d":278,"t":20.39},{"yr":2014,"d":293,"t":20.32},{"yr":2014,"d":308,"t":20.32},{"yr":2014,"d":323,"t":20.33},{"yr":2014,"d":338,"t":20.32},{"yr":2014,"d":356,"t":20.40},
{"yr":2017,"d":8,"t":20.47},{"yr":2017,"d":23,"t":20.51},{"yr":2017,"d":38,"t":20.62},{"yr":2017,"d":53,"t":20.67},{"yr":2017,"d":68,"t":20.66},{"yr":2017,"d":83,"t":20.72},{"yr":2017,"d":98,"t":20.72},{"yr":2017,"d":113,"t":20.66},{"yr":2017,"d":128,"t":20.57},{"yr":2017,"d":143,"t":20.54},{"yr":2017,"d":158,"t":20.45},{"yr":2017,"d":173,"t":20.46},{"yr":2017,"d":188,"t":20.43},{"yr":2017,"d":203,"t":20.53},{"yr":2017,"d":218,"t":20.49},{"yr":2017,"d":233,"t":20.51},{"yr":2017,"d":248,"t":20.45},{"yr":2017,"d":263,"t":20.44},{"yr":2017,"d":278,"t":20.37},{"yr":2017,"d":293,"t":20.28},{"yr":2017,"d":308,"t":20.30},{"yr":2017,"d":323,"t":20.22},{"yr":2017,"d":338,"t":20.28},{"yr":2017,"d":356,"t":20.36},
{"yr":2018,"d":8,"t":20.35},{"yr":2018,"d":23,"t":20.37},{"yr":2018,"d":38,"t":20.49},{"yr":2018,"d":53,"t":20.51},{"yr":2018,"d":68,"t":20.59},{"yr":2018,"d":83,"t":20.63},{"yr":2018,"d":98,"t":20.60},{"yr":2018,"d":113,"t":20.54},{"yr":2018,"d":128,"t":20.52},{"yr":2018,"d":143,"t":20.44},{"yr":2018,"d":158,"t":20.35},{"yr":2018,"d":173,"t":20.40},{"yr":2018,"d":188,"t":20.42},{"yr":2018,"d":203,"t":20.41},{"yr":2018,"d":218,"t":20.45},{"yr":2018,"d":233,"t":20.50},{"yr":2018,"d":248,"t":20.40},{"yr":2018,"d":263,"t":20.42},{"yr":2018,"d":278,"t":20.34},{"yr":2018,"d":293,"t":20.31},{"yr":2018,"d":308,"t":20.21},{"yr":2018,"d":323,"t":20.26},{"yr":2018,"d":338,"t":20.25},{"yr":2018,"d":356,"t":20.34},
{"yr":2019,"d":8,"t":20.41},{"yr":2019,"d":23,"t":20.53},{"yr":2019,"d":38,"t":20.60},{"yr":2019,"d":53,"t":20.60},{"yr":2019,"d":68,"t":20.66},{"yr":2019,"d":83,"t":20.74},{"yr":2019,"d":98,"t":20.69},{"yr":2019,"d":113,"t":20.62},{"yr":2019,"d":128,"t":20.63},{"yr":2019,"d":143,"t":20.58},{"yr":2019,"d":158,"t":20.49},{"yr":2019,"d":173,"t":20.44},{"yr":2019,"d":188,"t":20.53},{"yr":2019,"d":203,"t":20.50},{"yr":2019,"d":218,"t":20.56},{"yr":2019,"d":233,"t":20.56},{"yr":2019,"d":248,"t":20.56},{"yr":2019,"d":263,"t":20.46},{"yr":2019,"d":278,"t":20.47},{"yr":2019,"d":293,"t":20.37},{"yr":2019,"d":308,"t":20.38},{"yr":2019,"d":323,"t":20.39},{"yr":2019,"d":338,"t":20.34},{"yr":2019,"d":356,"t":20.45},
{"yr":2020,"d":8,"t":20.54},{"yr":2020,"d":23,"t":20.58},{"yr":2020,"d":38,"t":20.70},{"yr":2020,"d":53,"t":20.76},{"yr":2020,"d":68,"t":20.74},{"yr":2020,"d":83,"t":20.78},{"yr":2020,"d":98,"t":20.80},{"yr":2020,"d":113,"t":20.72},{"yr":2020,"d":128,"t":20.65},{"yr":2020,"d":143,"t":20.64},{"yr":2020,"d":158,"t":20.50},{"yr":2020,"d":173,"t":20.52},{"yr":2020,"d":188,"t":20.52},{"yr":2020,"d":203,"t":20.56},{"yr":2020,"d":218,"t":20.54},{"yr":2020,"d":233,"t":20.61},{"yr":2020,"d":248,"t":20.52},{"yr":2020,"d":263,"t":20.48},{"yr":2020,"d":278,"t":20.43},{"yr":2020,"d":293,"t":20.35},{"yr":2020,"d":308,"t":20.35},{"yr":2020,"d":323,"t":20.27},{"yr":2020,"d":338,"t":20.34},{"yr":2020,"d":356,"t":20.40},
{"yr":2021,"d":8,"t":20.42},{"yr":2021,"d":23,"t":20.42},{"yr":2021,"d":38,"t":20.53},{"yr":2021,"d":53,"t":20.55},{"yr":2021,"d":68,"t":20.62},{"yr":2021,"d":83,"t":20.65},{"yr":2021,"d":98,"t":20.59},{"yr":2021,"d":113,"t":20.58},{"yr":2021,"d":128,"t":20.55},{"yr":2021,"d":143,"t":20.46},{"yr":2021,"d":158,"t":20.39},{"yr":2021,"d":173,"t":20.41},{"yr":2021,"d":188,"t":20.43},{"yr":2021,"d":203,"t":20.45},{"yr":2021,"d":218,"t":20.45},{"yr":2021,"d":233,"t":20.48},{"yr":2021,"d":248,"t":20.41},{"yr":2021,"d":263,"t":20.42},{"yr":2021,"d":278,"t":20.31},{"yr":2021,"d":293,"t":20.31},{"yr":2021,"d":308,"t":20.24},{"yr":2021,"d":323,"t":20.25},{"yr":2021,"d":338,"t":20.24},{"yr":2021,"d":356,"t":20.34},
{"yr":2022,"d":8,"t":20.37},{"yr":2022,"d":23,"t":20.47},{"yr":2022,"d":38,"t":20.56},{"yr":2022,"d":53,"t":20.58},{"yr":2022,"d":68,"t":20.60},{"yr":2022,"d":83,"t":20.67},{"yr":2022,"d":98,"t":20.68},{"yr":2022,"d":113,"t":20.59},{"yr":2022,"d":128,"t":20.57},{"yr":2022,"d":143,"t":20.50},{"yr":2022,"d":158,"t":20.41},{"yr":2022,"d":173,"t":20.40},{"yr":2022,"d":188,"t":20.45},{"yr":2022,"d":203,"t":20.41},{"yr":2022,"d":218,"t":20.51},{"yr":2022,"d":233,"t":20.47},{"yr":2022,"d":248,"t":20.47},{"yr":2022,"d":263,"t":20.39},{"yr":2022,"d":278,"t":20.38},{"yr":2022,"d":293,"t":20.26},{"yr":2022,"d":308,"t":20.24},{"yr":2022,"d":323,"t":20.27},{"yr":2022,"d":338,"t":20.25},{"yr":2022,"d":356,"t":20.34},
{"yr":2003,"d":8,"t":20.29},{"yr":2003,"d":23,"t":20.34},{"yr":2003,"d":38,"t":20.46},{"yr":2003,"d":53,"t":20.52},{"yr":2003,"d":68,"t":20.51},{"yr":2003,"d":83,"t":20.55},{"yr":2003,"d":98,"t":20.56},{"yr":2003,"d":113,"t":20.49},{"yr":2003,"d":128,"t":20.42},{"yr":2003,"d":143,"t":20.41},{"yr":2003,"d":158,"t":20.27},{"yr":2003,"d":173,"t":20.30},{"yr":2003,"d":188,"t":20.30},{"yr":2003,"d":203,"t":20.35},{"yr":2003,"d":218,"t":20.33},{"yr":2003,"d":233,"t":20.40},{"yr":2003,"d":248,"t":20.32},{"yr":2003,"d":263,"t":20.28},{"yr":2003,"d":278,"t":20.23},{"yr":2003,"d":293,"t":20.15},{"yr":2003,"d":308,"t":20.15},{"yr":2003,"d":323,"t":20.07},{"yr":2003,"d":338,"t":20.15},{"yr":2003,"d":356,"t":20.21},
{"yr":2005,"d":8,"t":20.30},{"yr":2005,"d":23,"t":20.31},{"yr":2005,"d":38,"t":20.42},{"yr":2005,"d":53,"t":20.44},{"yr":2005,"d":68,"t":20.51},{"yr":2005,"d":83,"t":20.55},{"yr":2005,"d":98,"t":20.51},{"yr":2005,"d":113,"t":20.45},{"yr":2005,"d":128,"t":20.43},{"yr":2005,"d":143,"t":20.34},{"yr":2005,"d":158,"t":20.25},{"yr":2005,"d":173,"t":20.30},{"yr":2005,"d":188,"t":20.31},{"yr":2005,"d":203,"t":20.29},{"yr":2005,"d":218,"t":20.33},{"yr":2005,"d":233,"t":20.37},{"yr":2005,"d":248,"t":20.27},{"yr":2005,"d":263,"t":20.29},{"yr":2005,"d":278,"t":20.20},{"yr":2005,"d":293,"t":20.17},{"yr":2005,"d":308,"t":20.06},{"yr":2005,"d":323,"t":20.11},{"yr":2005,"d":338,"t":20.09},{"yr":2005,"d":356,"t":20.18},
{"yr":2007,"d":8,"t":20.30},{"yr":2007,"d":23,"t":20.39},{"yr":2007,"d":38,"t":20.48},{"yr":2007,"d":53,"t":20.49},{"yr":2007,"d":68,"t":20.51},{"yr":2007,"d":83,"t":20.55},{"yr":2007,"d":98,"t":20.54},{"yr":2007,"d":113,"t":20.46},{"yr":2007,"d":128,"t":20.45},{"yr":2007,"d":143,"t":20.40},{"yr":2007,"d":158,"t":20.27},{"yr":2007,"d":173,"t":20.24},{"yr":2007,"d":188,"t":20.31},{"yr":2007,"d":203,"t":20.25},{"yr":2007,"d":218,"t":20.33},{"yr":2007,"d":233,"t":20.33},{"yr":2007,"d":248,"t":20.33},{"yr":2007,"d":263,"t":20.19},{"yr":2007,"d":278,"t":20.16},{"yr":2007,"d":293,"t":20.08},{"yr":2007,"d":308,"t":20.08},{"yr":2007,"d":323,"t":20.07},{"yr":2007,"d":338,"t":20.05},{"yr":2007,"d":356,"t":20.12},
{"yr":2009,"d":8,"t":20.20},{"yr":2009,"d":23,"t":20.26},{"yr":2009,"d":38,"t":20.39},{"yr":2009,"d":53,"t":20.45},{"yr":2009,"d":68,"t":20.46},{"yr":2009,"d":83,"t":20.53},{"yr":2009,"d":98,"t":20.56},{"yr":2009,"d":113,"t":20.47},{"yr":2009,"d":128,"t":20.40},{"yr":2009,"d":143,"t":20.38},{"yr":2009,"d":158,"t":20.27},{"yr":2009,"d":173,"t":20.33},{"yr":2009,"d":188,"t":20.31},{"yr":2009,"d":203,"t":20.38},{"yr":2009,"d":218,"t":20.39},{"yr":2009,"d":233,"t":20.43},{"yr":2009,"d":248,"t":20.34},{"yr":2009,"d":263,"t":20.36},{"yr":2009,"d":278,"t":20.33},{"yr":2009,"d":293,"t":20.21},{"yr":2009,"d":308,"t":20.21},{"yr":2009,"d":323,"t":20.17},{"yr":2009,"d":338,"t":20.25},{"yr":2009,"d":356,"t":20.32}
],
"hl": [
{"g":"2016","d":1,"t":20.61},{"g":"2016","d":4,"t":20.62},{"g":"2016","d":6,"t":20.65},{"g":"2016","d":9,"t":20.68},{"g":"2016","d":12,"t":20.73},{"g":"2016","d":14,"t":20.70},{"g":"2016","d":16,"t":20.72},{"g":"2016","d":19,"t":20.74},{"g":"2016","d":23,"t":20.75},{"g":"2016","d":26,"t":20.76},{"g":"2016","d":30,"t":20.76},{"g":"2016","d":32,"t":20.75},{"g":"2016","d":35,"t":20.78},{"g":"2016","d":38,"t":20.76},{"g":"2016","d":41,"t":20.80},{"g":"2016","d":44,"t":20.79},{"g":"2016","d":46,"t":20.78},{"g":"2016","d":48,"t":20.75},{"g":"2016","d":50,"t":20.76},{"g":"2016","d":52,"t":20.76},{"g":"2016","d":53,"t":20.82},{"g":"2016","d":56,"t":20.84},{"g":"2016","d":58,"t":20.83},{"g":"2016","d":61,"t":20.85},{"g":"2016","d":64,"t":20.90},{"g":"2016","d":67,"t":20.91},{"g":"2016","d":70,"t":20.89},{"g":"2016","d":72,"t":20.88},{"g":"2016","d":74,"t":20.91},{"g":"2016","d":77,"t":20.92},{"g":"2016","d":80,"t":20.90},{"g":"2016","d":82,"t":20.92},{"g":"2016","d":83,"t":20.89},{"g":"2016","d":86,"t":20.88},{"g":"2016","d":87,"t":20.94},{"g":"2016","d":89,"t":20.95},{"g":"2016","d":90,"t":20.88},{"g":"2016","d":92,"t":20.86},{"g":"2016","d":95,"t":20.83},{"g":"2016","d":99,"t":20.82},{"g":"2016","d":102,"t":20.82},{"g":"2016","d":104,"t":20.82},{"g":"2016","d":108,"t":20.80},{"g":"2016","d":112,"t":20.79},{"g":"2016","d":116,"t":20.78},{"g":"2016","d":120,"t":20.78},{"g":"2016","d":123,"t":20.76},{"g":"2016","d":127,"t":20.76},{"g":"2016","d":128,"t":20.75},{"g":"2016","d":131,"t":20.74},{"g":"2016","d":134,"t":20.72},{"g":"2016","d":137,"t":20.71},{"g":"2016","d":140,"t":20.68},{"g":"2016","d":143,"t":20.64},{"g":"2016","d":147,"t":20.62},{"g":"2016","d":149,"t":20.63},{"g":"2016","d":152,"t":20.61},{"g":"2016","d":154,"t":20.64},{"g":"2016","d":159,"t":20.65},{"g":"2016","d":162,"t":20.63},{"g":"2016","d":165,"t":20.65},{"g":"2016","d":168,"t":20.63},{"g":"2016","d":171,"t":20.64},{"g":"2016","d":175,"t":20.63},{"g":"2016","d":178,"t":20.63},{"g":"2016","d":181,"t":20.60},{"g":"2016","d":185,"t":20.62},{"g":"2016","d":190,"t":20.61},{"g":"2016","d":195,"t":20.63},{"g":"2016","d":198,"t":20.66},{"g":"2016","d":202,"t":20.66},{"g":"2016","d":206,"t":20.67},{"g":"2016","d":210,"t":20.72},{"g":"2016","d":213,"t":20.71},{"g":"2016","d":215,"t":20.73},{"g":"2016","d":217,"t":20.70},{"g":"2016","d":221,"t":20.66},{"g":"2016","d":225,"t":20.68},{"g":"2016","d":229,"t":20.67},{"g":"2016","d":232,"t":20.68},{"g":"2016","d":236,"t":20.68},{"g":"2016","d":239,"t":20.68},{"g":"2016","d":241,"t":20.64},{"g":"2016","d":243,"t":20.59},{"g":"2016","d":245,"t":20.57},{"g":"2016","d":247,"t":20.58},{"g":"2016","d":249,"t":20.57},{"g":"2016","d":252,"t":20.58},{"g":"2016","d":255,"t":20.56},{"g":"2016","d":259,"t":20.54},{"g":"2016","d":263,"t":20.52},{"g":"2016","d":266,"t":20.55},{"g":"2016","d":268,"t":20.56},{"g":"2016","d":271,"t":20.51},{"g":"2016","d":274,"t":20.47},{"g":"2016","d":276,"t":20.46},{"g":"2016","d":279,"t":20.44},{"g":"2016","d":281,"t":20.42},{"g":"2016","d":285,"t":20.41},{"g":"2016","d":288,"t":20.36},{"g":"2016","d":290,"t":20.37},{"g":"2016","d":293,"t":20.35},{"g":"2016","d":297,"t":20.32},{"g":"2016","d":298,"t":20.31},{"g":"2016","d":301,"t":20.33},{"g":"2016","d":304,"t":20.30},{"g":"2016","d":307,"t":20.26},{"g":"2016","d":309,"t":20.24},{"g":"2016","d":311,"t":20.26},{"g":"2016","d":314,"t":20.28},{"g":"2016","d":317,"t":20.29},{"g":"2016","d":321,"t":20.27},{"g":"2016","d":325,"t":20.25},{"g":"2016","d":329,"t":20.27},{"g":"2016","d":332,"t":20.29},{"g":"2016","d":336,"t":20.32},{"g":"2016","d":338,"t":20.35},{"g":"2016","d":342,"t":20.35},{"g":"2016","d":346,"t":20.35},{"g":"2016","d":349,"t":20.34},{"g":"2016","d":352,"t":20.32},{"g":"2016","d":355,"t":20.34},{"g":"2016","d":359,"t":20.34},{"g":"2016","d":362,"t":20.36},{"g":"2016","d":365,"t":20.38},{"g":"2016","d":366,"t":20.39},
{"g":"2023","d":1,"t":20.43},{"g":"2023","d":3,"t":20.42},{"g":"2023","d":6,"t":20.41},{"g":"2023","d":9,"t":20.46},{"g":"2023","d":12,"t":20.52},{"g":"2023","d":15,"t":20.55},{"g":"2023","d":18,"t":20.57},{"g":"2023","d":23,"t":20.60},{"g":"2023","d":26,"t":20.60},{"g":"2023","d":30,"t":20.62},{"g":"2023","d":36,"t":20.66},{"g":"2023","d":39,"t":20.68},{"g":"2023","d":44,"t":20.68},{"g":"2023","d":49,"t":20.69},{"g":"2023","d":53,"t":20.72},{"g":"2023","d":56,"t":20.73},{"g":"2023","d":59,"t":20.74},{"g":"2023","d":64,"t":20.76},{"g":"2023","d":67,"t":20.77},{"g":"2023","d":70,"t":20.82},{"g":"2023","d":74,"t":20.87},{"g":"2023","d":77,"t":20.89},{"g":"2023","d":81,"t":20.87},{"g":"2023","d":86,"t":20.87},{"g":"2023","d":92,"t":20.90},{"g":"2023","d":97,"t":20.88},{"g":"2023","d":103,"t":20.86},{"g":"2023","d":107,"t":20.86},{"g":"2023","d":113,"t":20.86},{"g":"2023","d":116,"t":20.85},{"g":"2023","d":118,"t":20.86},{"g":"2023","d":121,"t":20.79},{"g":"2023","d":123,"t":20.76},{"g":"2023","d":126,"t":20.79},{"g":"2023","d":128,"t":20.79},{"g":"2023","d":133,"t":20.77},{"g":"2023","d":139,"t":20.76},{"g":"2023","d":142,"t":20.77},{"g":"2023","d":148,"t":20.75},{"g":"2023","d":151,"t":20.77},{"g":"2023","d":157,"t":20.79},{"g":"2023","d":161,"t":20.82},{"g":"2023","d":164,"t":20.81},{"g":"2023","d":168,"t":20.82},{"g":"2023","d":173,"t":20.84},{"g":"2023","d":177,"t":20.83},{"g":"2023","d":181,"t":20.83},{"g":"2023","d":184,"t":20.85},{"g":"2023","d":188,"t":20.83},{"g":"2023","d":192,"t":20.86},{"g":"2023","d":195,"t":20.88},{"g":"2023","d":198,"t":20.91},{"g":"2023","d":200,"t":20.94},{"g":"2023","d":203,"t":20.93},{"g":"2023","d":207,"t":20.94},{"g":"2023","d":210,"t":20.95},{"g":"2023","d":213,"t":20.96},{"g":"2023","d":215,"t":20.98},{"g":"2023","d":218,"t":20.97},{"g":"2023","d":221,"t":20.98},{"g":"2023","d":223,"t":20.96},{"g":"2023","d":227,"t":20.97},{"g":"2023","d":230,"t":20.99},{"g":"2023","d":233,"t":21.00},{"g":"2023","d":236,"t":21.02},{"g":"2023","d":239,"t":21.01},{"g":"2023","d":241,"t":21.00},{"g":"2023","d":242,"t":20.98},{"g":"2023","d":243,"t":20.96}
]
},
"encoding": {
"x": {"field": "d", "type": "quantitative", "scale": {"domain": [1, 366], "nice": false, "zero": false},
 "axis": {"values": [1,32,60,91,121,152,182,213,244,274,305,335,366], "labelExpr": "['JAN','FEB','MAR','APR','MAY','JUN','JUL','AUG','SEP','OCT','NOV','DEC',''][indexof([1,32,60,91,121,152,182,213,244,274,305,335,366], datum.value)]", "labelOffset": 54, "title": null, "grid": true, "gridColor": "#2e2e2e", "gridWidth": 1, "domainColor": "#cccccc", "domainWidth": 4, "tickColor": "#cccccc", "tickWidth": 4, "tickSize": 9, "labelColor": "#cccccc", "labelFontSize": 21, "labelPadding": 2, "labelOverlap": false, "labelFlush": false, "labelBound": false, "labelFont": "DejaVu Sans"}},
"y": {"field": "t", "type": "quantitative", "scale": {"domain": [19.4, 21.4], "nice": false, "zero": false},
 "axis": {"values": [19.4,19.6,19.8,20.0,20.2,20.4,20.6,20.8,21.0,21.2,21.4], "format": ".1f", "title": "Temperature (°C)", "grid": true, "gridColor": "#2e2e2e", "domain": false, "ticks": false, "labelPadding": 18, "labelColor": "#cccccc", "labelFontSize": 21, "labelFont": "DejaVu Sans", "titleColor": "#cccccc", "titleFontSize": 20, "titleFontWeight": "normal", "titleFont": "Open Sans", "titlePadding": 26}}
},
"layer": [
{"data": {"name": "old"}, "mark": {"type": "line", "interpolate": "monotone", "strokeWidth": 1.1, "opacity": 0.9},
 "encoding": {"detail": {"field": "yr"}, "stroke": {"field": "yr", "type": "quantitative", "scale": {"domain": [1979,1986,1994,2002,2010,2022], "range": ["#4a8dbf","#5fa5d0","#9dcbe5","#f6dccd","#efaa8c","#eb7a57"]}, "legend": null}}},
{"data": {"name": "recent"}, "mark": {"type": "line", "strokeWidth": 1.1, "opacity": 0.9},
 "encoding": {"detail": {"field": "yr"}, "stroke": {"field": "yr", "type": "quantitative", "scale": {"domain": [1979,1986,1994,2002,2010,2022], "range": ["#4a8dbf","#5fa5d0","#9dcbe5","#f6dccd","#efaa8c","#eb7a57"]}, "legend": null}}},
{"data": {"name": "hl"}, "transform": [{"filter": {"field": "g", "equal": "2016"}}],
 "mark": {"type": "line", "strokeJoin": "round", "strokeCap": "round"},
 "encoding": {
  "color": {"field": "g", "type": "nominal", "scale": {"domain": ["2023","2016","2020s","2010s","2000s","1990s","1980s","1970s"], "range": ["#ff0000","#b0141c","#f08c6e","#f0af91","#fae1d2","#8cc3e1","#64aad2","#559bc8"]},
   "legend": {"title": null, "orient": "none", "legendX": 1319, "legendY": 28, "symbolType": "stroke", "symbolSize": 600, "symbolStrokeWidth": 1, "labelFontSize": 19, "labelFont": "DejaVu Sans", "labelOffset": 10, "rowPadding": 5, "labelColor": {"expr": "scale('color', datum.value)"},
    "encode": {"symbols": {"update": {"strokeWidth": {"signal": "datum.value === '2023' ? 6 : datum.value === '2016' ? 5 : 1"}, "size": {"signal": "datum.value === '2023' || datum.value === '2016' ? 1090 : 600"}}}}}},
  "strokeWidth": {"field": "g", "type": "nominal", "scale": {"domain": ["2023","2016","2020s","2010s","2000s","1990s","1980s","1970s"], "range": [5.5,5,1,1,1,1,1,1]}, "legend": null}}},
{"data": {"name": "hl"}, "transform": [{"filter": {"field": "g", "equal": "2023"}}],
 "mark": {"type": "line", "strokeJoin": "round", "strokeCap": "round"},
 "encoding": {
  "color": {"field": "g", "type": "nominal"},
  "strokeWidth": {"field": "g", "type": "nominal", "legend": null}}},
{"data": {"values": [{"d": 243, "t": 20.96}]}, "mark": {"type": "point", "filled": true, "color": "#ff0000", "size": 130, "opacity": 1}},
{"data": {"values": [{"d": 244, "t": 21.10, "label": "31 Aug 2023"}]}, "mark": {"type": "text", "color": "#ff0000", "fontSize": 16, "font": "DejaVu Sans", "align": "center", "baseline": "middle"}, "encoding": {"text": {"field": "label"}}},
{"data": {"values": [{"d": 243, "t": 21.06, "t2": 20.997}]}, "mark": {"type": "rule", "color": "#ff0000", "strokeWidth": 1.3}, "encoding": {"y2": {"field": "t2"}}},
{"data": {"values": [{"d": 243, "t": 20.997}]}, "mark": {"type": "point", "shape": "M-1,-1.3L0,0L1,-1.3", "filled": false, "color": "#ff0000", "strokeWidth": 1.3, "size": 30, "opacity": 1}},
{"data": {"values": [{"d": 45, "t": 20.92, "label": "2016"}]}, "mark": {"type": "text", "color": "#b0141c", "fontSize": 16, "font": "DejaVu Sans", "align": "center", "baseline": "middle"}, "encoding": {"text": {"field": "label"}}},
{"data": {"values": [{"d": 51.9, "t": 20.886, "d2": 54.9, "t2": 20.857}]}, "mark": {"type": "rule", "color": "#b0141c", "strokeWidth": 1.2}, "encoding": {"x2": {"field": "d2"}, "y2": {"field": "t2"}}},
{"data": {"values": [{"d": 54.9, "t": 20.857}]}, "mark": {"type": "point", "shape": "M-1,-1.3L0,0L1,-1.3", "filled": false, "color": "#b0141c", "strokeWidth": 1.2, "size": 30, "opacity": 1, "angle": 315}},
{"data": {"values": [{"d": 368, "t": 19.59, "label": "created: 2023-09-05"}]}, "mark": {"type": "text", "color": "#777777", "fontSize": 11, "font": "DejaVu Sans", "angle": 90, "align": "center", "baseline": "middle"}, "encoding": {"text": {"field": "label"}}}
]
}
